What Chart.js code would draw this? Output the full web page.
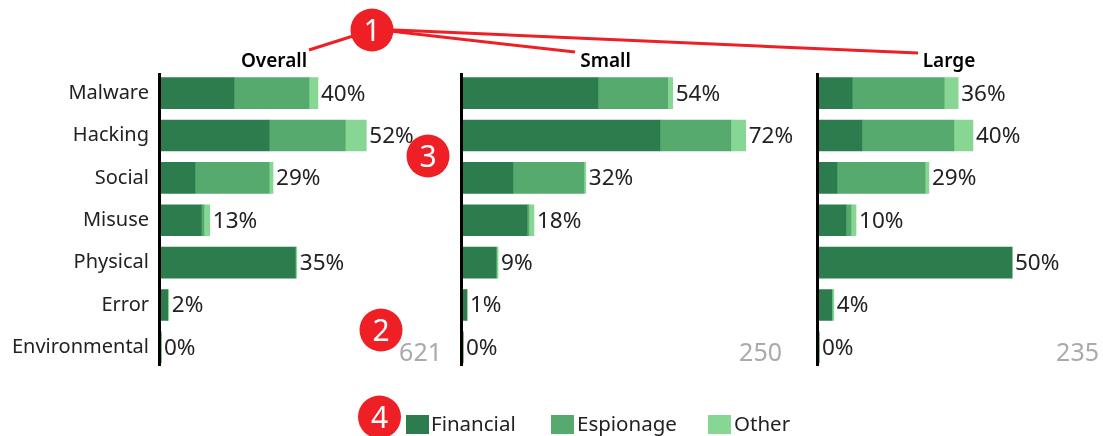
<!DOCTYPE html>
<html>
<head>
<meta charset="utf-8">
<title>Threat actions by motive</title>
<script src="https://cdn.jsdelivr.net/npm/chart.js@4"></script>
<style>
html, body { margin: 0; padding: 0; background: #fff; }
body { width: 1103px; height: 436px; position: relative; overflow: hidden; font-family: "Noto Sans", sans-serif; }
canvas { position: absolute; top: 0; left: 0; }
.box { position: absolute; top: 47px; height: 323px; }
.count { position: absolute; top: 333px; font-size: 25px; line-height: 36px; color: #aaa; text-align: right; width: 60px; }
.swatch { position: absolute; top: 415px; width: 23px; height: 19px; }
.leg { position: absolute; top: 408px; font-size: 20.5px; line-height: 30px; color: #222; }
svg { position: absolute; left: 0; top: 0; }
</style>
</head>
<body>
<div class="box" style="left:0;width:460px"><canvas id="chartOverall"></canvas></div>
<div class="box" style="left:459px;width:356px"><canvas id="chartSmall"></canvas></div>
<div class="box" style="left:815px;width:288px"><canvas id="chartLarge"></canvas></div>

<div class="count" style="left:382px">621</div>
<div class="count" style="left:722px">250</div>
<div class="count" style="left:1039px">235</div>

<div class="swatch" style="left:406px;background:#2c7c4e"></div><div class="leg" style="left:431px">Financial</div>
<div class="swatch" style="left:551px;background:#56aa6e"></div><div class="leg" style="left:577px">Espionage</div>
<div class="swatch" style="left:708px;background:#87d693"></div><div class="leg" style="left:734px">Other</div>

<svg width="1103" height="436" font-family="Noto Sans" font-size="30" fill="#fff" text-anchor="middle">
  <g stroke="#ee1f25" stroke-width="3">
    <line x1="372" y1="30" x2="309" y2="50"/>
    <line x1="372" y1="29" x2="575" y2="52"/>
    <line x1="372" y1="29" x2="918" y2="53"/>
  </g>
  <g fill="#ee1f25">
    <circle cx="372" cy="30" r="21.5"/>
    <circle cx="381" cy="330" r="21.5"/>
    <circle cx="428" cy="156" r="21.5"/>
    <circle cx="379.5" cy="417" r="21.5"/>
  </g>
  <text x="372" y="41">1</text>
  <text x="381" y="341">2</text>
  <text x="428" y="167">3</text>
  <text x="379.5" y="428">4</text>
</svg>

<script>
// kategóriák és értékek
const categories = ['Malware', 'Hacking', 'Social', 'Misuse', 'Physical', 'Error', 'Environmental'];
const seriesNames = ['Financial', 'Espionage', 'Other'];
const seriesColors = ['#2c7c4e', '#56aa6e', '#87d693'];

const overallFinancial = [18.7, 27.7, 8.7, 10.3, 34.4, 1.7, 0];
const overallEspionage = [19.2, 19.5, 19.0, 0.7, 0, 0, 0];
const overallOther = [2.3, 5.4, 1.0, 1.5, 0.4, 0.3, 0];
const overallTotals = ['40%', '52%', '29%', '13%', '35%', '2%', '0%'];

const smallFinancial = [34.6, 50.5, 12.8, 16.4, 8.5, 1.0, 0];
const smallEspionage = [17.9, 18.2, 18.2, 0.5, 0, 0, 0];
const smallOther = [1.3, 3.8, 0.5, 1.3, 0.5, 0, 0];
const smallTotals = ['54%', '72%', '32%', '18%', '9%', '1%', '0%'];

const largeFinancial = [8.5, 11.0, 4.6, 6.9, 49.5, 3.3, 0];
const largeEspionage = [23.6, 23.6, 22.6, 1.3, 0, 0, 0];
const largeOther = [3.6, 4.9, 1.0, 1.3, 0, 0.5, 0];
const largeTotals = ['36%', '40%', '29%', '10%', '50%', '4%', '0%'];

const textFont = '"Noto Sans", sans-serif';

// százalék címkék, kategória nevek és a függőleges tengely vonala
const barLabels = {
    id: 'barLabels',
    afterDatasetsDraw(chart, args, opts) {
        const ctx = chart.ctx;
        const last = chart.getDatasetMeta(2).data;
        const yScale = chart.scales.y;
        ctx.save();
        ctx.font = '22.5px ' + textFont;
        ctx.fillStyle = '#222';
        ctx.textBaseline = 'middle';
        last.forEach((bar, i) => {
            ctx.fillText(opts.totals[i], bar.x + 3, bar.y + 1);
        });
        if (opts.showCategories) {
            ctx.font = '20px ' + textFont;
            ctx.textAlign = 'right';
            categories.forEach((name, i) => {
                ctx.fillText(name, chart.chartArea.left - 12, yScale.getPixelForValue(i));
            });
        }
        ctx.fillStyle = '#000';
        ctx.fillRect(chart.chartArea.left - 3, 26, 3, 293);
        ctx.restore();
    }
};

function makeChart(id, title, values, totals, maxX, width, padding, showCategories) {
    const canvas = document.getElementById(id);
    canvas.style.width = width + 'px';
    canvas.style.height = '323px';
    canvas.width = width;
    canvas.height = 323;
    return new Chart(canvas.getContext('2d'), {
        type: 'bar',
        plugins: [barLabels],
        data: {
            labels: categories,
            datasets: values.map((v, i) => ({
                label: seriesNames[i],
                data: v,
                backgroundColor: seriesColors[i],
                borderWidth: 0,
                barThickness: 31
            }))
        },
        options: {
            indexAxis: 'y',
            responsive: false,
            animation: false,
            layout: { padding: padding },
            plugins: {
                legend: { display: false },
                tooltip: { enabled: false },
                title: {
                    display: true,
                    text: title,
                    fullSize: false,
                    color: '#000',
                    font: { family: textFont, size: 19, weight: '600', lineHeight: 1 },
                    padding: { top: 5.5, bottom: 0.5 }
                },
                barLabels: { totals: totals, showCategories: showCategories }
            },
            scales: {
                x: { display: false, stacked: true, min: 0, max: maxX },
                y: { display: false, stacked: true }
            }
        }
    });
}

makeChart('chartOverall', 'Overall', [overallFinancial, overallEspionage, overallOther], overallTotals,
    57.9, 460, { left: 161, right: 73, top: 0, bottom: 1.5 }, true);
makeChart('chartSmall', 'Small', [smallFinancial, smallEspionage, smallOther], smallTotals,
    73.1, 356, { left: 4, right: 67, top: 0, bottom: 1.5 }, false);
makeChart('chartLarge', 'Large', [largeFinancial, largeEspionage, largeOther], largeTotals,
    66.7, 288, { left: 4, right: 24, top: 0, bottom: 1.5 }, false);
</script>
</body>
</html>
